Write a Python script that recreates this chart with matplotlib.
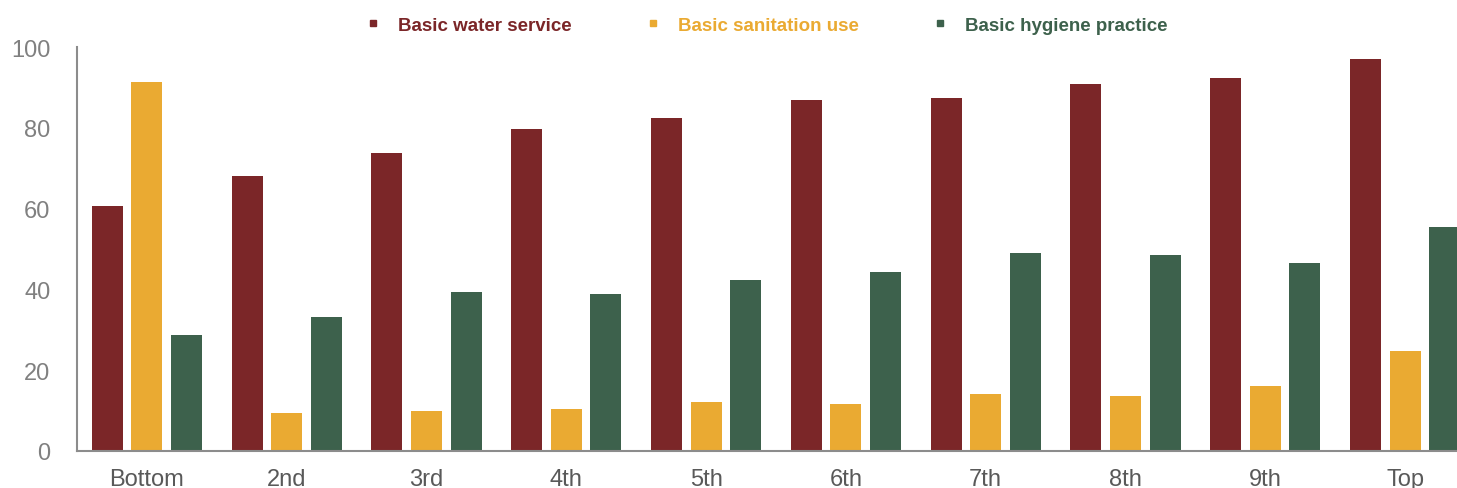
import matplotlib.pyplot as plt
import numpy as np
from matplotlib.lines import Line2D

plt.rcParams['font.family'] = ['Liberation Sans', 'DejaVu Sans']

categories = ["Bottom", "2nd", "3rd", "4th", "5th", "6th", "7th", "8th", "9th", "Top"]
series_names = ["Basic water service", "Basic sanitation use", "Basic hygiene practice"]
water = [60.6, 68.1, 73.8, 79.7, 82.4, 86.9, 87.4, 90.8, 92.3, 97.0]
sanitation = [91.3, 9.4, 9.9, 10.4, 12.1, 11.6, 14.1, 13.6, 16.1, 24.8]
hygiene = [28.7, 33.2, 39.4, 38.9, 42.3, 44.3, 49.0, 48.5, 46.5, 55.4]
colors = ["#7B2628", "#EAAA32", "#3D614C"]

fig = plt.figure(figsize=(14.57, 4.89), dpi=100)
ax = fig.add_axes([77 / 1457, 37 / 489, 1398 / 1457, 404 / 489])

x = np.arange(len(categories))
width = 0.222
offset = 0.283
for i, vals in enumerate([water, sanitation, hygiene]):
    ax.bar(x + (i - 1) * offset, vals, width, color=colors[i])

ax.set_xlim(-0.5, 9.5)
ax.set_ylim(0, 100)
ax.set_yticks(range(0, 101, 20))
ax.set_xticks(x)
ax.set_xticklabels(categories, fontsize=17, color="#595959")
ax.tick_params(axis="y", labelsize=17, labelcolor="#808080", length=0, pad=19)
ax.tick_params(axis="x", length=0, pad=12)
for s in ["top", "right"]:
    ax.spines[s].set_visible(False)
for s in ["left", "bottom"]:
    ax.spines[s].set_color("#8c8c8c")
    ax.spines[s].set_linewidth(1.5)

handles = [Line2D([], [], marker="s", linestyle="none", color=c, markersize=5) for c in colors]
leg = fig.legend(handles, series_names, loc="center", bbox_to_anchor=(0.525, 0.946),
                 ncol=3, frameon=False, columnspacing=3.75, handletextpad=0.72,
                 handlelength=1.2, prop={"size": 13.5, "weight": "bold"})
for t, c in zip(leg.get_texts(), colors):
    t.set_color(c)

fig.savefig("out.png", dpi=100)
